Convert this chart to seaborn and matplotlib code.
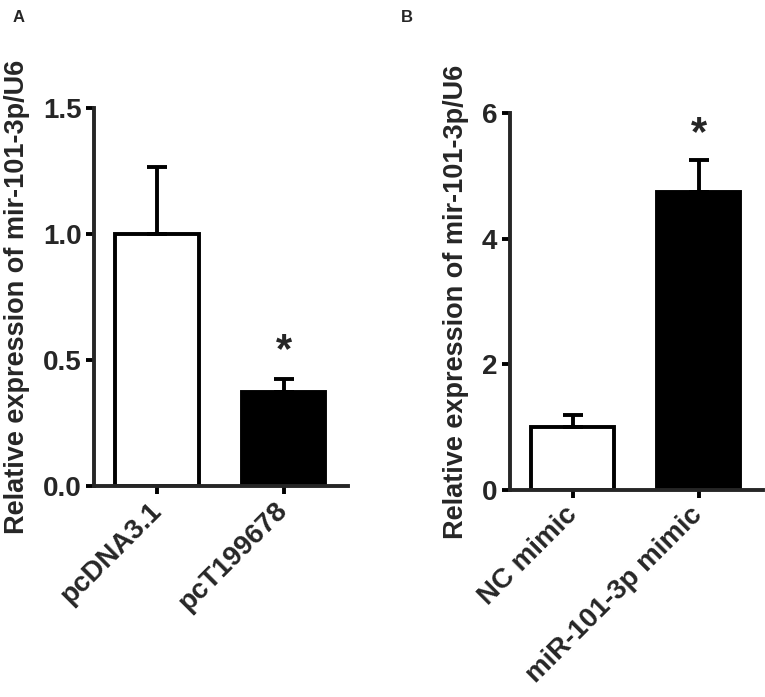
import matplotlib
matplotlib.use("Agg")
import matplotlib.pyplot as plt
import seaborn as sns
import pandas as pd

# Panel A data
cats_a = ["pcDNA3.1", "pcT199678"]
means_a = [1.0, 0.373]
err_a = [0.266, 0.052]
yticks_a = [0.0, 0.5, 1.0, 1.5]
yticklabels_a = ["0.0", "0.5", "1.0", "1.5"]

# Panel B data
cats_b = ["NC mimic", "miR-101-3p mimic"]
means_b = [1.0, 4.745]
err_b = [0.19, 0.5]
yticks_b = [0, 2, 4, 6]
yticklabels_b = ["0", "2", "4", "6"]

ylabel = "Relative expression of mir-101-3p/U6"
colors = ["white", "black"]

sns.set_style("ticks")
plt.rcParams["font.family"] = ["Liberation Sans", "DejaVu Sans"]

fig = plt.figure(figsize=(7.65, 6.97), dpi=100)
axA = fig.add_axes([94/765, 1-486/697, (348-94)/765, (486-108)/697])
axB = fig.add_axes([510/765, 1-490/697, (763-510)/765, (490-113)/697])

LW = 2.8
FS = 20

def panel(ax, cats, means, errs, yticks, yticklabels, ylim, star_y, star_idx):
    df = pd.DataFrame({"cat": cats, "val": means})
    sns.barplot(data=df, x="cat", y="val", hue="cat", palette=colors,
                edgecolor="black", linewidth=LW, width=0.66, legend=False,
                ax=ax, errorbar=None)
    ax.errorbar(range(len(cats)), means, yerr=[[0]*len(errs), errs], fmt="none",
                ecolor="black", elinewidth=LW, capsize=7.5, capthick=LW, zorder=1)
    ax.set_ylim(*ylim)
    ax.set_xlim(-0.5, 1.51)
    ax.set_yticks(yticks)
    ax.set_yticklabels(yticklabels, fontsize=FS, fontweight="bold")
    ax.set_xticks(range(len(cats)))
    ax.set_xticklabels(cats, fontsize=FS, fontweight="bold", rotation=45,
                       ha="right", va="center", rotation_mode="anchor")
    ax.set_xlabel("")
    ax.set_ylabel(ylabel, fontsize=19.5, fontweight="bold")
    for s in ["top", "right"]:
        ax.spines[s].set_visible(False)
    for s in ["left", "bottom"]:
        ax.spines[s].set_linewidth(LW)
    ax.tick_params(axis="both", width=LW, length=6, color="black", pad=3)
    ax.tick_params(axis="x", pad=9)
    ax.text(star_idx, star_y, "*", ha="center", va="center", fontsize=30,
            fontweight="bold")

panel(axA, cats_a, means_a, err_a, yticks_a, yticklabels_a, (0, 1.5), 0.535, 1)
panel(axB, cats_b, means_b, err_b, yticks_b, yticklabels_b, (0, 6), 5.67, 1)

axA.yaxis.set_label_coords(-0.252, 0.5)
axB.yaxis.set_label_coords(-0.163, 0.5)

fig.text(19/765, 1-17/697, "A", fontsize=12, fontweight="bold", ha="center", va="center")
fig.text(407/765, 1-17/697, "B", fontsize=12, fontweight="bold", ha="center", va="center")

fig.savefig("out.png", dpi=100)
